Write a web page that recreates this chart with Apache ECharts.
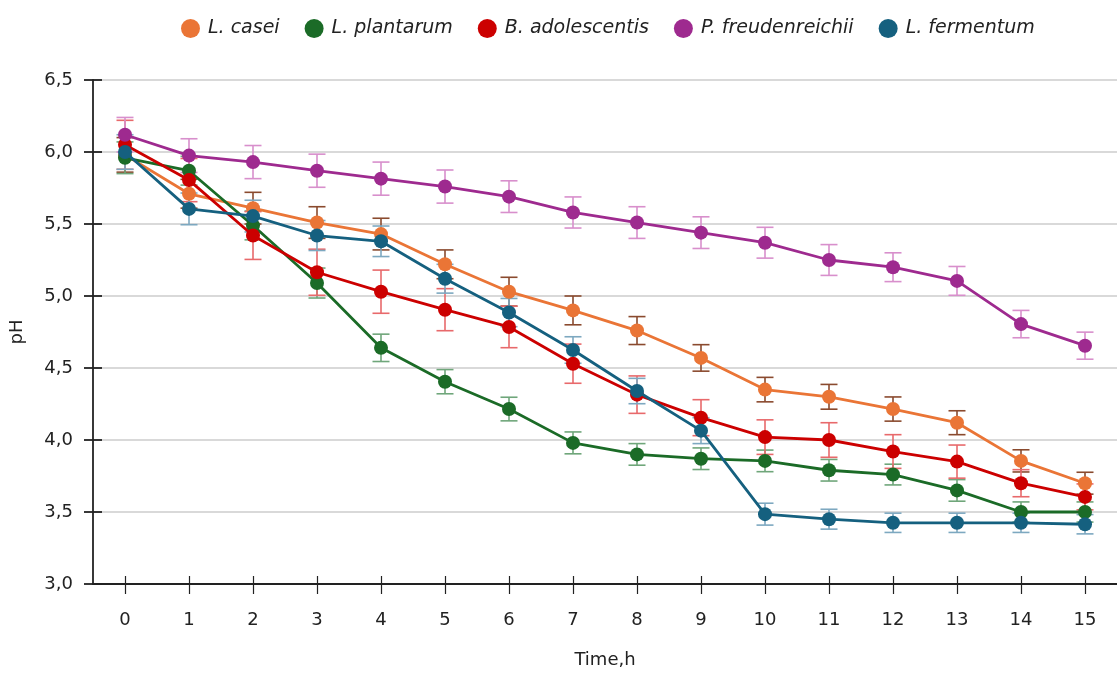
<!DOCTYPE html>
<html>
<head>
<meta charset="utf-8">
<script src="https://cdn.jsdelivr.net/npm/echarts@6/dist/echarts.min.js"></script>
<style>
html,body{margin:0;padding:0;background:#fff;}
#chart{width:1117px;height:674px;}
</style>
</head>
<body>
<div id="chart"></div>
<script>
const categories = ['0','1','2','3','4','5','6','7','8','9','10','11','12','13','14','15'];
const yTicks = [3.0, 3.5, 4.0, 4.5, 5.0, 5.5, 6.0, 6.5];

const seriesNames = ['L. casei', 'L. plantarum', 'B. adolescentis', 'P. freudenreichii', 'L. fermentum'];

const casei      = [5.98, 5.71, 5.61, 5.51, 5.43, 5.22, 5.03, 4.90, 4.76, 4.57, 4.35, 4.30, 4.215, 4.12, 3.855, 3.70];
const caseiErr   = [0.12, 0.10, 0.11, 0.11, 0.11, 0.10, 0.10, 0.10, 0.097, 0.092, 0.085, 0.086, 0.084, 0.083, 0.077, 0.076];

const plantarum    = [5.96, 5.87, 5.49, 5.09, 4.64, 4.405, 4.215, 3.98, 3.90, 3.87, 3.855, 3.79, 3.76, 3.65, 3.50, 3.50];
const plantarumErr = [0.11, 0.10, 0.10, 0.104, 0.095, 0.084, 0.082, 0.076, 0.075, 0.075, 0.075, 0.075, 0.072, 0.075, 0.07, 0.07];

const adolescentis    = [6.05, 5.805, 5.42, 5.165, 5.03, 4.905, 4.785, 4.53, 4.315, 4.155, 4.02, 4.00, 3.92, 3.85, 3.70, 3.605];
const adolescentisErr = [0.17, 0.15, 0.166, 0.16, 0.15, 0.146, 0.144, 0.136, 0.13, 0.125, 0.12, 0.12, 0.117, 0.115, 0.094, 0.09];

const freudenreichii    = [6.12, 5.975, 5.93, 5.87, 5.815, 5.76, 5.69, 5.58, 5.51, 5.44, 5.37, 5.25, 5.20, 5.105, 4.805, 4.655];
const freudenreichiiErr = [0.12, 0.117, 0.115, 0.115, 0.115, 0.115, 0.11, 0.108, 0.11, 0.11, 0.107, 0.107, 0.10, 0.10, 0.095, 0.094];

const fermentum    = [6.00, 5.605, 5.555, 5.42, 5.38, 5.12, 4.885, 4.625, 4.34, 4.065, 3.485, 3.45, 3.425, 3.425, 3.425, 3.415];
const fermentumErr = [0.12, 0.11, 0.11, 0.104, 0.106, 0.10, 0.098, 0.092, 0.088, 0.09, 0.076, 0.069, 0.067, 0.067, 0.067, 0.067];

const lineColors = ['#EA7536', '#1B6B27', '#CC0000', '#9E2A8F', '#15607F'];
const errColors  = ['#8A4A2E', '#6FA67A', '#E8696B', '#D88FCC', '#7DA8C0'];

const allValues = [casei, plantarum, adolescentis, freudenreichii, fermentum];
const allErrs = [caseiErr, plantarumErr, adolescentisErr, freudenreichiiErr, fermentumErr];

const chart = echarts.init(document.getElementById('chart'));

const FONT = '"DejaVu Sans", "Liberation Sans", Arial, sans-serif';
const GRID = {left: 90.5, top: 80, width: 1040, height: 507};

const series = [];
allValues.forEach((vals, si) => {
  const errData = vals.map((v, i) => [i, v - allErrs[si][i], v + allErrs[si][i]]);
  series.push({
    type: 'custom',
    name: seriesNames[si],
    xAxisIndex: 0, yAxisIndex: 0,
    z: 2,
    silent: true,
    data: errData,
    renderItem: function (params, api) {
      const x = api.value(0);
      const lo = api.coord([x, api.value(1)]);
      const hi = api.coord([x, api.value(2)]);
      const hw = 8.5;
      const st = {stroke: errColors[si], lineWidth: 1.6, fill: null};
      return {
        type: 'group',
        children: [
          {type: 'line', shape: {x1: lo[0], y1: lo[1], x2: hi[0], y2: hi[1]}, style: st},
          {type: 'line', shape: {x1: lo[0] - hw, y1: lo[1], x2: lo[0] + hw, y2: lo[1]}, style: st},
          {type: 'line', shape: {x1: hi[0] - hw, y1: hi[1], x2: hi[0] + hw, y2: hi[1]}, style: st}
        ]
      };
    }
  });
});
allValues.forEach((vals, si) => {
  series.push({
    type: 'line',
    name: seriesNames[si],
    xAxisIndex: 0, yAxisIndex: 0,
    z: 3 + si,
    data: vals,
    symbol: 'circle',
    symbolSize: 14,
    itemStyle: {color: lineColors[si]},
    lineStyle: {color: lineColors[si], width: 2.8},
    emphasis: {disabled: true},
    animation: false
  });
});

const fmt = v => v.toFixed(1).replace('.', ',');

chart.setOption({
  animation: false,
  color: lineColors,
  textStyle: {fontFamily: FONT},
  legend: {
    data: seriesNames.map((n, i) => ({name: n, itemStyle: {color: lineColors[i]}})),
    top: 14,
    left: 176,
    icon: 'circle',
    itemWidth: 19,
    itemHeight: 19,
    itemGap: 25,
    textStyle: {fontFamily: FONT, fontSize: 19, fontStyle: 'italic', color: '#222', padding: [0, 0, 0, 3]}
  },
  grid: [GRID],
  xAxis: [
    {
      type: 'category', data: categories, boundaryGap: true,
      axisLine: {show: true, lineStyle: {color: '#222', width: 1.8}},
      axisTick: {show: true, alignWithLabel: true, length: 10, inside: false, lineStyle: {color: '#222', width: 1.2}},
      axisLabel: {margin: 27, fontSize: 18, color: '#222', fontFamily: FONT},
      splitLine: {show: false},
      name: 'Time,h', nameLocation: 'middle', nameGap: 67,
      nameTextStyle: {fontSize: 18, color: '#222', fontFamily: FONT}
    },
    {
      type: 'category', data: categories, boundaryGap: true, position: 'bottom',
      axisLine: {show: false},
      axisTick: {show: true, alignWithLabel: true, length: 8, inside: true, lineStyle: {color: '#222', width: 1.2}},
      axisLabel: {show: false}
    }
  ],
  yAxis: [
    {
      type: 'value', min: 3.0, max: 6.5, interval: 0.5,
      axisLine: {show: true, lineStyle: {color: '#222', width: 1.8}},
      axisTick: {show: true, length: 9, inside: false, lineStyle: {color: '#222', width: 1.8}},
      axisLabel: {margin: 20, fontSize: 18, color: '#222', fontFamily: FONT, formatter: fmt},
      splitLine: {show: true, lineStyle: {color: '#cccccc', width: 1.5}},
      name: 'pH', nameLocation: 'middle', nameGap: 67, nameRotate: 90,
      nameTextStyle: {fontSize: 18, color: '#222', fontFamily: FONT}
    },
    {
      type: 'value', min: 3.0, max: 6.5, interval: 0.5, position: 'left',
      axisLine: {show: false},
      axisTick: {show: true, length: 9, inside: true, lineStyle: {color: '#222', width: 1.8}},
      axisLabel: {show: false},
      splitLine: {show: false}
    }
  ],
  series: series
});
</script>
</body>
</html>
